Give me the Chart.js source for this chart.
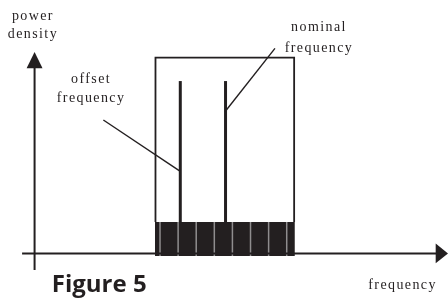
<!DOCTYPE html>
<html><head><meta charset="utf-8">
<script src="https://cdn.jsdelivr.net/npm/chart.js@4/dist/chart.umd.min.js"></script>
<style>html,body{margin:0;padding:0;background:#fff;}canvas{display:block;}</style>
</head><body>
<canvas id="c" width="448" height="299"></canvas>
<script>
// ---- data (frequency in channel units, power density in arbitrary units) ----
const channelSeparators = [0, 1, 2, 3, 4, 5, 6, 7];
const bandFreqRange = [-0.28, 7.45];
const bandPowerRange = [-0.14, 1.6];
const maskFreqRange = [-0.25, 7.41];
const maskPower = 10;
const toneNames = ['offset frequency', 'nominal frequency'];
const toneFreqs = [1.12, 3.62];
const tonePower = 8.8;
const leaderStart = [[-3.13, 6.81], [6.35, 10.47]];
const leaderEnd = [[1.10, 4.20], [3.59, 7.23]];
const freqAxisRange = [-7.62, 15.91];
const powerAxisFreq = -6.93;
const powerAxisRange = [-0.85, 10.28];
const axisTitles = ['power density', 'frequency'];
const figureTitle = 'Figure 5';

const INK = '#231f20';

const sepData = [];
channelSeparators.forEach(f => {
  sepData.push({x: f, y: bandPowerRange[0]}, {x: f, y: bandPowerRange[1]}, {x: f, y: null});
});

const datasets = [
  { // occupied band
    data: [{x: bandFreqRange[0], y: bandPowerRange[1]}, {x: bandFreqRange[1], y: bandPowerRange[1]}],
    fill: {value: bandPowerRange[0]}, backgroundColor: INK, borderWidth: 0, order: 10
  },
  { // channel separators
    data: sepData, borderColor: '#8f8d8e', borderWidth: 1.5, spanGaps: false, order: 8
  },
  { // mask box
    data: [{x: maskFreqRange[0], y: bandPowerRange[1]}, {x: maskFreqRange[0], y: maskPower},
           {x: maskFreqRange[1], y: maskPower}, {x: maskFreqRange[1], y: bandPowerRange[1]}],
    borderColor: INK, borderWidth: 1.8, order: 6
  },
  { // frequency axis
    data: [{x: freqAxisRange[0], y: 0}, {x: freqAxisRange[1] - 0.6, y: 0}],
    borderColor: INK, borderWidth: 2, order: 5
  },
  { // power axis
    data: [{x: powerAxisFreq, y: powerAxisRange[0]}, {x: powerAxisFreq, y: powerAxisRange[1] - 0.7}],
    borderColor: INK, borderWidth: 2, order: 5
  }
];
toneFreqs.forEach(f => datasets.push({
  data: [{x: f, y: bandPowerRange[1]}, {x: f, y: tonePower}], borderColor: INK, borderWidth: 3, order: 2
}));
leaderStart.forEach((s, i) => datasets.push({
  data: [{x: s[0], y: s[1]}, {x: leaderEnd[i][0], y: leaderEnd[i][1]}], borderColor: INK, borderWidth: 1.4, order: 1
}));
datasets.forEach(d => { d.showLine = true; d.pointRadius = 0; d.clip = false; d.tension = 0; if (d.fill === undefined) d.fill = false; });

// text labels anchored in data units
const textLabels = [
  {lines: ['power', 'density'], x: -7.02, y: [12.12, 11.17]},
  {lines: ['offset', 'frequency'], x: -3.81, y: [8.9, 7.93]},
  {lines: ['nominal', 'frequency'], x: 8.78, y: [11.56, 10.49]},
  {lines: ['frequency'], x: 13.4, y: [-1.62]}
];

const decor = {
  id: 'decor',
  afterDatasetsDraw(chart) {
    const {ctx, scales: {x, y}} = chart;
    ctx.save();
    ctx.fillStyle = INK;
    // x arrowhead
    ctx.beginPath();
    ctx.moveTo(x.getPixelForValue(freqAxisRange[1]), y.getPixelForValue(0));
    ctx.lineTo(x.getPixelForValue(freqAxisRange[1] - 0.68), y.getPixelForValue(0.51));
    ctx.lineTo(x.getPixelForValue(freqAxisRange[1] - 0.68), y.getPixelForValue(-0.51));
    ctx.closePath(); ctx.fill();
    // y arrowhead
    ctx.beginPath();
    ctx.moveTo(x.getPixelForValue(powerAxisFreq), y.getPixelForValue(powerAxisRange[1]));
    ctx.lineTo(x.getPixelForValue(powerAxisFreq - 0.44), y.getPixelForValue(powerAxisRange[1] - 0.82));
    ctx.lineTo(x.getPixelForValue(powerAxisFreq + 0.44), y.getPixelForValue(powerAxisRange[1] - 0.82));
    ctx.closePath(); ctx.fill();
    // serif labels
    ctx.font = '14px "Liberation Serif", "DejaVu Serif", serif';
    try { ctx.letterSpacing = '1.4px'; } catch (e) {}
    ctx.textAlign = 'center';
    ctx.textBaseline = 'middle';
    textLabels.forEach(l => l.lines.forEach((t, i) => {
      ctx.fillText(t, x.getPixelForValue(l.x), y.getPixelForValue(l.y[i]));
    }));
    // figure title
    try { ctx.letterSpacing = '0px'; } catch (e) {}
    ctx.font = 'bold 24px "Open Sans", "Noto Sans", sans-serif';
    ctx.textAlign = 'left';
    ctx.textBaseline = 'alphabetic';
    ctx.fillText(figureTitle, x.getPixelForValue(-5.98), y.getPixelForValue(-1.99));
    ctx.restore();
  }
};

new Chart(document.getElementById('c'), {
  type: 'scatter',
  data: {datasets},
  options: {
    responsive: false, animation: false, devicePixelRatio: 1,
    layout: {padding: 0},
    plugins: {legend: {display: false}, tooltip: {enabled: false}, title: {display: false}},
    scales: {
      x: {type: 'linear', min: -8.84, max: 15.91, display: false},
      y: {type: 'linear', min: -2.33, max: 12.94, display: false}
    }
  },
  plugins: [decor]
});
</script>
</body></html>
